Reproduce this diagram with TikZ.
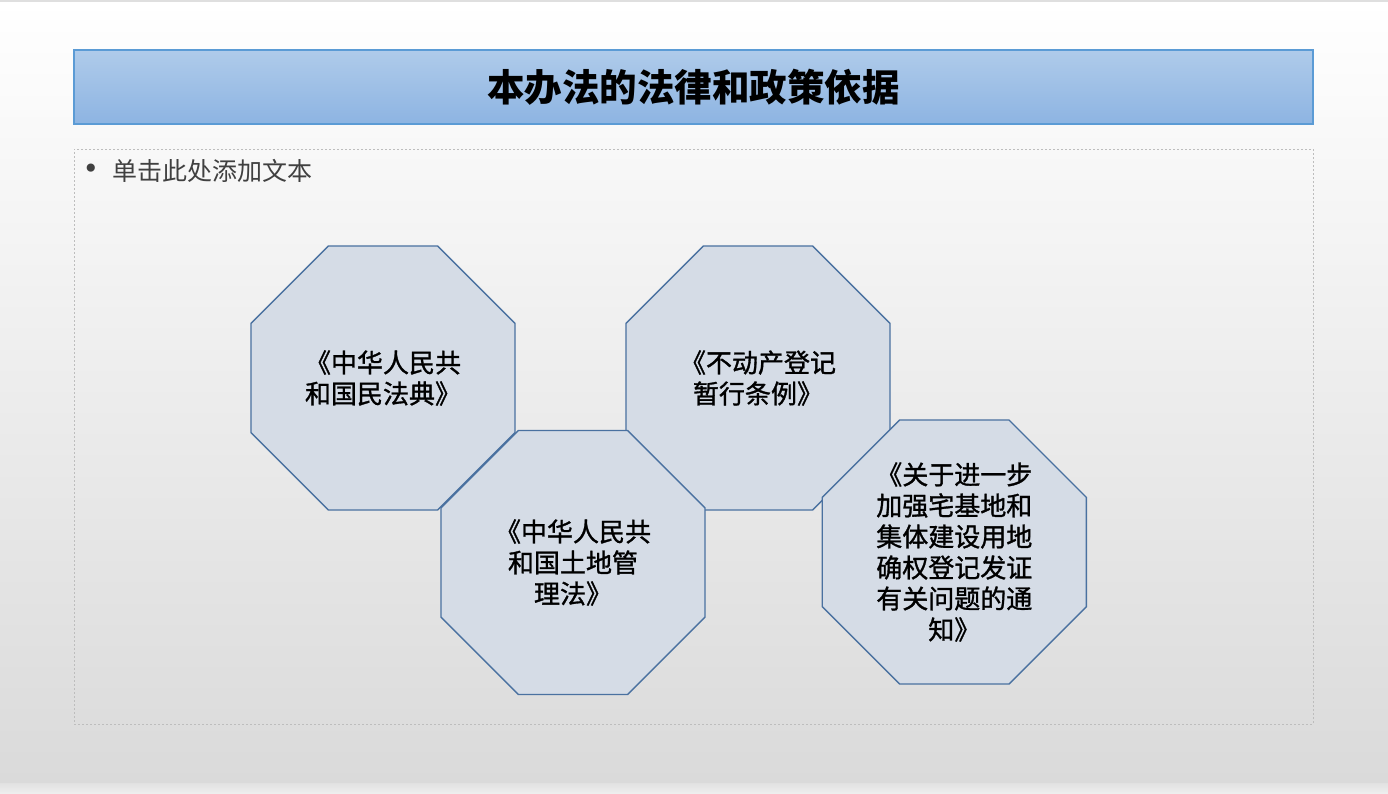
\documentclass[tikz,border=0pt]{standalone}
\usepackage{fontspec}
\setmainfont{Noto Sans CJK SC}
\newfontfamily\octfont[FakeBold=1.2]{Noto Sans CJK SC}
\newfontfamily\bulfont{DejaVu Sans}
\usetikzlibrary{shapes.geometric}
\definecolor{octfill}{HTML}{D5DCE6}
\definecolor{octline}{HTML}{4A71A0}
\definecolor{titletop}{HTML}{AFCBEA}
\definecolor{titlebot}{HTML}{8DB4E2}
\definecolor{titleline}{HTML}{5B9BD5}
\definecolor{bgbot}{HTML}{DADADA}
\definecolor{bgstrip}{HTML}{EEEEEE}
\definecolor{dotgray}{HTML}{BDBDBD}
\definecolor{bullgray}{HTML}{404040}
\definecolor{topgray}{HTML}{DFDFDF}
\begin{document}
\begin{tikzpicture}[x=1pt,y=-1pt,
  octo/.style={regular polygon, regular polygon sides=8, minimum size=285.8pt,
    inner sep=0pt, outer sep=0pt, draw=octline, line width=1.4pt, fill=octfill,
    align=center, text=black, font=\fontsize{26}{31}\octfont},
  titlebox/.style={rectangle, minimum width=1239pt, minimum height=74pt, inner sep=0pt,
    top color=titletop, bottom color=titlebot, draw=titleline, line width=1.3pt,
    font=\fontsize{37.5}{40}\selectfont\bfseries, text=black},
  dotbox/.style={rectangle, minimum width=1239pt, minimum height=575pt, inner sep=0pt,
    draw=dotgray, line width=1pt, dash pattern=on 2pt off 2pt},
  bulltext/.style={text=bullgray, font=\fontsize{25}{28}\selectfont, inner sep=0pt}]
\useasboundingbox (0,0) rectangle (1388,793);
\shade[top color=white, bottom color=bgbot] (0,0) rectangle (1388,783);
\shade[top color=bgbot!80!white, bottom color=bgstrip] (0,783) rectangle (1388,793);
\draw[topgray, line width=1.5pt] (0,0.75) -- (1388,0.75);
\node[titlebox] (title) at (693.5,87) {本办法的法律和政策依据};
\node[dotbox] (body) at (693.5,436.5) {};
\node[bulltext, anchor=center, font=\fontsize{28}{30}\bulfont] (bullet) at (91,171) {•};
\node[bulltext, anchor=west] (hint) at (112,171) {单击此处添加文本};
\node[octo] (civil) at (383,378) {《中华人民共\\和国民法典》};
\node[octo] (realty) at (758,378) {《不动产登记\\暂行条例》};
\node[octo] (land) at (573,562.5) {《中华人民共\\和国土地管\\理法》};
\node[octo] (notice) at (954.3,552) {《关于进一步\\加强宅基地和\\集体建设用地\\确权登记发证\\有关问题的通\\知》};
\end{tikzpicture}
\end{document}
